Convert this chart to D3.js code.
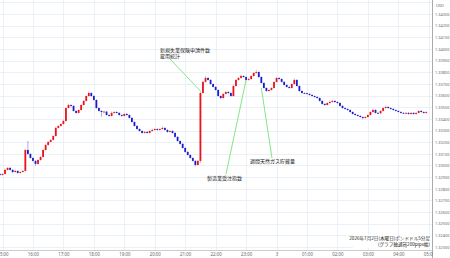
<!DOCTYPE html>
<html>
<head>
<meta charset="utf-8">
<script src="https://cdn.jsdelivr.net/npm/d3@7"></script>
<style>
  body { margin: 0; background: #fff; }
  svg { display: block; }
  .grid line { stroke: #e6edf5; stroke-width: 0.8; }
  .axis text { fill: #666; font-family: "Noto Sans", sans-serif; font-size: 4.4px; }
  .yax text { font-size: 3.9px; }
  .note { font-family: "Noto Sans CJK JP", sans-serif; font-size: 5px; fill: #222; }
</style>
</head>
<body>
<svg id="chart" width="450" height="258"></svg>
<script>
// GBP/USD 5 minute candles, 2026-07-02 14:55 -> 2026-07-03 04:55 (JST)
var firstOpen = 1.32927;

var closes = [
 1.32919, 1.32927, 1.32962, 1.32979, 1.32962, 1.32944, 1.32953, 1.32936, 1.32944, 1.32953,
 1.33133, 1.33099, 1.33064, 1.33039, 1.33013, 1.33047, 1.33073, 1.33133, 1.33176, 1.33202,
 1.33219, 1.33253, 1.33322, 1.33339, 1.33356, 1.33382, 1.33493, 1.33519, 1.33511, 1.33468,
 1.33451, 1.33476, 1.33519, 1.33554, 1.33596, 1.33622, 1.33596, 1.33562, 1.33493, 1.33468,
 1.33459, 1.33462, 1.33433, 1.33425, 1.33451, 1.33459, 1.33451, 1.33433, 1.33425, 1.33442,
 1.33433, 1.33408, 1.33373, 1.33339, 1.33313, 1.33296, 1.33279, 1.33288, 1.33279, 1.33296,
 1.33305, 1.33313, 1.33305, 1.33313, 1.33322, 1.33305, 1.33288, 1.33296, 1.33279, 1.33245,
 1.33210, 1.33185, 1.33150, 1.33116, 1.33090, 1.33064, 1.33039, 1.33004, 1.33039, 1.33622,
 1.33717, 1.33751, 1.33734, 1.33699, 1.33674, 1.33648, 1.33596, 1.33579, 1.33614, 1.33631,
 1.33622, 1.33596, 1.33682, 1.33734, 1.33751, 1.33768, 1.33759, 1.33734, 1.33742, 1.33768,
 1.33794, 1.33802, 1.33759, 1.33708, 1.33665, 1.33639, 1.33648, 1.33665, 1.33717, 1.33751,
 1.33742, 1.33717, 1.33691, 1.33674, 1.33665, 1.33699, 1.33734, 1.33682, 1.33639, 1.33622,
 1.33620, 1.33614, 1.33605, 1.33596, 1.33588, 1.33579, 1.33554, 1.33528, 1.33519, 1.33536,
 1.33545, 1.33554, 1.33545, 1.33536, 1.33511, 1.33493, 1.33485, 1.33476, 1.33459, 1.33442,
 1.33433, 1.33425, 1.33416, 1.33408, 1.33416, 1.33433, 1.33459, 1.33476, 1.33451, 1.33448,
 1.33468, 1.33493, 1.33502, 1.33493, 1.33485, 1.33476, 1.33468, 1.33459, 1.33451, 1.33448,
 1.33451, 1.33442, 1.33451, 1.33442, 1.33451, 1.33468, 1.33459, 1.33451, 1.33459
];

// wick length beyond the body, in pips
var wickUp = [
 1, 1, 2, 1, 1, 1, 2, 1, 1, 1,  1, 13, 1, 1, 1, 1, 1, 1, 2, 1,
 1, 1, 2, 1, 1, 2, 1, 2, 1, 1,  1, 1, 1, 1, 1, 2, 1, 1, 1, 1,
 1, 1, 1, 1, 2, 1, 1, 1, 1, 1,  1, 1, 1, 1, 1, 1, 1, 1, 1, 1,
 2, 1, 1, 1, 2, 1, 1, 1, 1, 1,  1, 1, 1, 1, 1, 1, 1, 1, 1, 2,
 2, 3, 1, 1, 1, 1, 1, 1, 1, 1,  1, 1, 2, 1, 1, 2, 1, 1, 2, 1,
 1, 3, 1, 1, 1, 1, 1, 1, 1, 1,  1, 1, 1, 1, 1, 1, 2, 1, 1, 1,
 1, 1, 1, 1, 1, 1, 1, 1, 1, 1,  2, 1, 1, 1, 1, 1, 1, 1, 1, 1,
 1, 1, 1, 1, 1, 1, 1, 2, 1, 1,  1, 1, 2, 1, 1, 1, 1, 1, 1, 1,
 1, 1, 1, 1, 1, 1, 1, 1, 1
];
var wickDn = [
 1, 1, 1, 1, 1, 2, 1, 1, 1, 1,  1, 1, 1, 1, 3, 1, 1, 1, 1, 1,
 1, 1, 1, 1, 1, 1, 1, 1, 2, 1,  1, 1, 1, 1, 1, 1, 1, 1, 1, 1,
 7, 1, 1, 1, 1, 1, 1, 1, 1, 1,  1, 1, 1, 1, 1, 1, 1, 1, 1, 1,
 1, 1, 1, 1, 1, 1, 1, 1, 1, 1,  1, 1, 1, 1, 1, 1, 1, 2, 1, 3,
 1, 1, 1, 1, 1, 1, 1, 2, 1, 1,  2, 1, 1, 1, 1, 1, 1, 1, 1, 1,
 1, 1, 1, 1, 1, 1, 1, 1, 1, 1,  1, 1, 1, 1, 1, 1, 1, 1, 1, 1,
 1, 1, 1, 1, 1, 1, 1, 1, 1, 1,  1, 1, 1, 1, 1, 1, 1, 1, 1, 1,
 1, 1, 1, 2, 1, 1, 1, 1, 1, 1,  1, 1, 1, 1, 1, 1, 1, 1, 1, 1,
 1, 1, 1, 1, 1, 1, 1, 1, 1
];

var hourLabels = ["15:00", "16:00", "17:00", "18:00", "19:00", "20:00", "21:00", "22:00",
                  "23:00", "3", "01:00", "02:00", "03:00", "04:00", "05:00"];
var priceTicks = [1.323, 1.324, 1.325, 1.326, 1.327, 1.328, 1.329, 1.330, 1.331, 1.332, 1.333,
                  1.334, 1.335, 1.336, 1.337, 1.338, 1.339, 1.340, 1.341, 1.342, 1.343];

// event notes: text lines, minute of the candle the line points at, price it points at, text and line start
var events = [
  {lines: ["新規失業保険申請件数", "雇用統計"], minute: 390, price: 1.33639, tx: 160, ty: 52, lx: 170, ly: 59},
  {lines: ["製造業受注指数"], minute: 480, price: 1.33734, tx: 207, ty: 180, lx: 226, ly: 174},
  {lines: ["週間天然ガス貯蔵量"], minute: 510, price: 1.33665, tx: 250, ty: 163, lx: 272, ly: 158}
];

var plotRight = 432, plotBottom = 250;

var svg = d3.select("#chart");

// minutes since 15:00
var x = d3.scaleLinear().domain([0, 840]).range([2.5, 2.5 + 14 * 30.45]);
var y = d3.scaleLinear().domain([1.322, 1.344]).range([258.65, 2.35]);

var candles = closes.map(function(c, i) {
  var o = i === 0 ? firstOpen : closes[i - 1];
  return {
    t: i * 5 - 5,
    o: o,
    c: c,
    h: Math.max(o, c) + wickUp[i] * 0.0001 * 0.6,
    l: Math.min(o, c) - wickDn[i] * 0.0001 * 0.6
  };
});

// grid
var grid = svg.append("g").attr("class", "grid");
grid.selectAll(".hg")
  .data([1.344].concat(priceTicks))
  .enter().append("line")
  .attr("x1", 0).attr("x2", plotRight)
  .attr("y1", function(d) { return Math.round(y(d)) + 0.5; })
  .attr("y2", function(d) { return Math.round(y(d)) + 0.5; });
grid.selectAll(".vg")
  .data(d3.range(0, 841, 60))
  .enter().append("line")
  .attr("y1", 0).attr("y2", plotBottom)
  .attr("x1", function(d) { return Math.round(x(d)) + 0.5; })
  .attr("x2", function(d) { return Math.round(x(d)) + 0.5; });

// candles
var up = "#e8141c", down = "#1c1ccc";
var cg = svg.append("g");
cg.selectAll(".wick")
  .data(candles)
  .enter().append("line")
  .attr("x1", function(d) { return x(d.t); })
  .attr("x2", function(d) { return x(d.t); })
  .attr("y1", function(d) { return y(d.h); })
  .attr("y2", function(d) { return y(d.l); })
  .attr("stroke", function(d) { return d.c >= d.o ? "#f08a8e" : "#8a8ae6"; })
  .attr("stroke-width", 0.7);
cg.selectAll(".body")
  .data(candles)
  .enter().append("rect")
  .attr("x", function(d) { return x(d.t) - 0.9; })
  .attr("width", 1.8)
  .attr("y", function(d) { return y(Math.max(d.o, d.c)); })
  .attr("height", function(d) { return Math.max(0.8, Math.abs(y(d.o) - y(d.c))); })
  .attr("fill", function(d) { return d.c >= d.o ? up : down; });

// axes
svg.append("line")
  .attr("x1", plotRight + 0.5).attr("x2", plotRight + 0.5)
  .attr("y1", 0).attr("y2", 258)
  .attr("stroke", "#aaa").attr("stroke-width", 1);
svg.append("line")
  .attr("x1", 0).attr("x2", plotRight)
  .attr("y1", plotBottom + 0.5).attr("y2", plotBottom + 0.5)
  .attr("stroke", "#ccc").attr("stroke-width", 1);

var yAxis = d3.axisRight(y).tickValues(priceTicks).tickFormat(d3.format(".5f")).tickSize(0).tickPadding(3);
svg.append("g")
  .attr("class", "axis yax")
  .attr("transform", "translate(" + plotRight + ",0)")
  .call(yAxis)
  .call(function(g) { g.select(".domain").remove(); });

svg.append("text")
  .attr("x", 436).attr("y", 7)
  .attr("fill", "#666")
  .style("font-family", "Noto Sans, sans-serif")
  .style("font-size", "3.9px")
  .text("USD");

var xAxis = d3.axisBottom(x).tickValues(d3.range(0, 841, 60))
  .tickFormat(function(d, i) { return hourLabels[i]; })
  .tickSize(0).tickPadding(3);
svg.append("g")
  .attr("class", "axis")
  .attr("transform", "translate(0," + plotBottom + ")")
  .call(xAxis)
  .call(function(g) { g.select(".domain").remove(); });

// cover x labels that run past the price axis
svg.append("rect").attr("x", plotRight + 1).attr("y", plotBottom + 1).attr("width", 20).attr("height", 8).attr("fill", "#fff");

// event notes
events.forEach(function(e) {
  svg.append("line")
    .attr("x1", e.lx).attr("y1", e.ly)
    .attr("x2", x(e.minute)).attr("y2", y(e.price))
    .attr("stroke", "#66dd66").attr("stroke-width", 0.8);
  e.lines.forEach(function(s, k) {
    svg.append("text")
      .attr("class", "note")
      .attr("x", e.tx).attr("y", e.ty + k * 6)
      .text(s);
  });
});

// caption
var cap = ["2026年7月2日(木曜日)ポンドドル5分足", "(グラフ軸通貨200pips幅)"];
svg.append("rect").attr("x", 353).attr("y", 235).attr("width", 78).attr("height", 13).attr("fill", "#fff");
cap.forEach(function(s, k) {
  svg.append("text")
    .attr("class", "note")
    .attr("x", 430).attr("y", 240 + k * 6)
    .attr("text-anchor", "end")
    .style("font-size", "4.6px")
    .text(s);
});
</script>
</body>
</html>
